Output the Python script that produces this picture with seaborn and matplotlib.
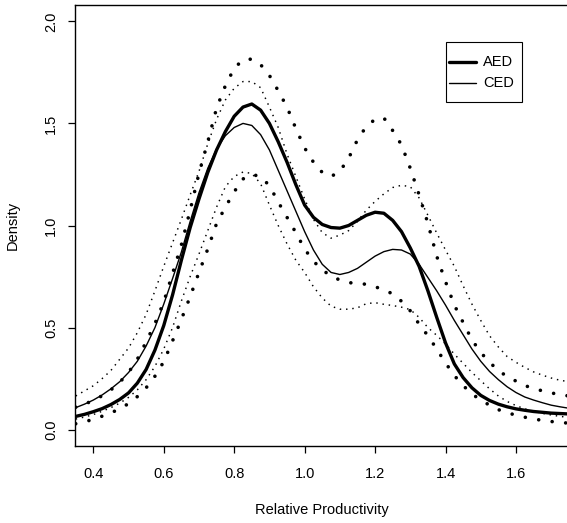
import numpy as np
import pandas as pd
import seaborn as sns
import matplotlib
matplotlib.use("Agg")
import matplotlib.pyplot as plt
from matplotlib.lines import Line2D
from matplotlib.patches import Rectangle

# Evaluation grid for the density estimates (relative productivity)
x_grid = [0.350, 0.375, 0.400, 0.425, 0.450, 0.475, 0.500, 0.525, 0.550, 0.575,
          0.600, 0.625, 0.650, 0.675, 0.700, 0.725, 0.750, 0.775, 0.800, 0.825,
          0.850, 0.875, 0.900, 0.925, 0.950, 0.975, 1.000, 1.025, 1.050, 1.075,
          1.100, 1.125, 1.150, 1.175, 1.200, 1.225, 1.250, 1.275, 1.300, 1.325,
          1.350, 1.375, 1.400, 1.425, 1.450, 1.475, 1.500, 1.525, 1.550, 1.575,
          1.600, 1.625, 1.650, 1.675, 1.700, 1.725, 1.750]

# AED density and its band
aed = [0.065, 0.075, 0.088, 0.103, 0.123, 0.148, 0.180, 0.228, 0.295, 0.390,
       0.510, 0.660, 0.830, 0.990, 1.130, 1.260, 1.370, 1.460, 1.535, 1.580,
       1.595, 1.565, 1.500, 1.410, 1.310, 1.200, 1.100, 1.040, 1.005, 0.990,
       0.987, 1.000, 1.025, 1.050, 1.065, 1.060, 1.025, 0.970, 0.890, 0.800,
       0.680, 0.550, 0.425, 0.322, 0.255, 0.205, 0.168, 0.143, 0.125, 0.112,
       0.102, 0.095, 0.089, 0.085, 0.081, 0.079, 0.077]
aed_upper = [0.110, 0.125, 0.143, 0.166, 0.195, 0.232, 0.280, 0.345, 0.430, 0.520,
             0.625, 0.765, 0.905, 1.075, 1.255, 1.410, 1.575, 1.685, 1.770, 1.812,
             1.815, 1.788, 1.735, 1.660, 1.580, 1.475, 1.380, 1.310, 1.260, 1.240,
             1.265, 1.330, 1.420, 1.485, 1.520, 1.527, 1.465, 1.395, 1.280, 1.150,
             1.010, 0.850, 0.725, 0.610, 0.525, 0.440, 0.378, 0.330, 0.290, 0.260,
             0.238, 0.216, 0.202, 0.190, 0.180, 0.172, 0.165]
aed_lower = [0.029, 0.039, 0.050, 0.066, 0.083, 0.101, 0.128, 0.162, 0.205, 0.262,
             0.333, 0.435, 0.540, 0.652, 0.770, 0.885, 1.010, 1.090, 1.165, 1.228,
             1.250, 1.240, 1.195, 1.115, 1.040, 0.965, 0.885, 0.825, 0.783, 0.752,
             0.733, 0.720, 0.717, 0.712, 0.700, 0.685, 0.665, 0.629, 0.582, 0.517,
             0.460, 0.395, 0.327, 0.265, 0.216, 0.175, 0.145, 0.120, 0.098, 0.083,
             0.071, 0.061, 0.053, 0.045, 0.040, 0.035, 0.032]

# CED density and its band
ced = [0.108, 0.125, 0.145, 0.170, 0.200, 0.235, 0.280, 0.335, 0.410, 0.500,
       0.615, 0.740, 0.870, 1.020, 1.160, 1.280, 1.375, 1.440, 1.480, 1.500,
       1.490, 1.445, 1.370, 1.270, 1.170, 1.070, 0.970, 0.880, 0.810, 0.770,
       0.760, 0.770, 0.790, 0.820, 0.850, 0.872, 0.883, 0.880, 0.860, 0.810,
       0.745, 0.680, 0.610, 0.535, 0.465, 0.395, 0.335, 0.285, 0.245, 0.210,
       0.182, 0.160, 0.145, 0.132, 0.120, 0.112, 0.105]
ced_upper = [0.165, 0.190, 0.215, 0.250, 0.290, 0.345, 0.400, 0.475, 0.565, 0.680,
             0.800, 0.915, 1.030, 1.150, 1.265, 1.400, 1.520, 1.615, 1.672, 1.705,
             1.705, 1.675, 1.580, 1.480, 1.350, 1.240, 1.130, 1.030, 0.965, 0.938,
             0.953, 0.975, 1.020, 1.075, 1.118, 1.155, 1.186, 1.197, 1.190, 1.135,
             1.050, 0.963, 0.880, 0.800, 0.705, 0.615, 0.535, 0.460, 0.405, 0.358,
             0.330, 0.305, 0.283, 0.267, 0.253, 0.242, 0.235]
ced_lower = [0.052, 0.062, 0.074, 0.090, 0.108, 0.130, 0.158, 0.195, 0.245, 0.310,
             0.395, 0.500, 0.630, 0.750, 0.860, 0.975, 1.090, 1.190, 1.240, 1.262,
             1.255, 1.205, 1.100, 1.000, 0.910, 0.830, 0.770, 0.700, 0.645, 0.605,
             0.590, 0.590, 0.597, 0.617, 0.622, 0.614, 0.608, 0.600, 0.588, 0.550,
             0.500, 0.462, 0.420, 0.370, 0.325, 0.280, 0.240, 0.200, 0.165, 0.138,
             0.118, 0.102, 0.090, 0.080, 0.072, 0.065, 0.060]

x_ticks = [0.4, 0.6, 0.8, 1.0, 1.2, 1.4, 1.6]
y_ticks = [0.0, 0.5, 1.0, 1.5, 2.0]
legend_labels = ["AED", "CED"]

df = pd.DataFrame({
    "x": x_grid, "aed": aed, "aed_upper": aed_upper, "aed_lower": aed_lower,
    "ced": ced, "ced_upper": ced_upper, "ced_lower": ced_lower,
})

sns.set_theme(style="white")
plt.rcParams["font.family"] = ["Liberation Sans", "DejaVu Sans"]

FS = 10.5
fig = plt.figure(figsize=(5.67, 5.23), dpi=100)
W, H = 567, 523
# plot region in pixels: left 75, top 5, bottom 446, right edge just past the canvas
ax = fig.add_axes([75 / W, (H - 446) / H, (569.5 - 75) / W, 441 / H])

thick = 2.4
thin = 1.0
big_dots = dict(color="black", lw=2.6, linestyle=(0, (0.01, 3.75)),
                dash_capstyle="round")
small_dots = dict(color="black", lw=1.05, linestyle=(0, (1.0, 3.3)),
                  dash_capstyle="butt")

sns.lineplot(data=df, x="x", y="aed_upper", ax=ax, estimator=None, **big_dots)
sns.lineplot(data=df, x="x", y="aed_lower", ax=ax, estimator=None, **big_dots)
sns.lineplot(data=df, x="x", y="ced_upper", ax=ax, estimator=None, **small_dots)
sns.lineplot(data=df, x="x", y="ced_lower", ax=ax, estimator=None, **small_dots)
sns.lineplot(data=df, x="x", y="aed", ax=ax, estimator=None, color="black", lw=thick)
sns.lineplot(data=df, x="x", y="ced", ax=ax, estimator=None, color="black", lw=thin)

ax.set_xlim(0.348, 1.752)
ax.set_ylim(-0.08, 2.08)
ax.set_xticks(x_ticks)
ax.set_xticklabels([f"{v:.1f}" for v in x_ticks])
ax.set_yticks(y_ticks)
ax.set_yticklabels([f"{v:.1f}" for v in y_ticks], rotation=90, va="center")

for side in ["left", "bottom", "top"]:
    ax.spines[side].set_visible(True)
    ax.spines[side].set_color("black")
    ax.spines[side].set_linewidth(1.0)
ax.spines["right"].set_visible(False)

ax.tick_params(axis="both", which="major", direction="out", length=5.2, width=0.9,
               color="black", labelsize=FS, labelcolor="black",
               bottom=True, left=True)
ax.tick_params(axis="x", pad=10)
ax.tick_params(axis="y", pad=7)

ax.set_xlabel("Relative Productivity", fontsize=FS, color="black")
ax.set_ylabel("Density", fontsize=FS, color="black")
ax.xaxis.set_label_coords(0.5, -0.129)
ax.yaxis.set_label_coords(-0.111, 0.5)

# Legend box with line keys
px = lambda x, y: (x / W, (H - y) / H)
fig.add_artist(Rectangle(px(446, 102.3), 76 / W, 60 / H, transform=fig.transFigure,
                         fill=False, edgecolor="black", lw=0.8))
for (ly, lw_), lab in zip([(61.7, thick), (83.3, thin)], legend_labels):
    (x0, y0), (x1, _) = px(449.3, ly), px(476, ly)
    fig.add_artist(Line2D([x0, x1], [y0, y0], transform=fig.transFigure,
                          color="black", lw=lw_))
    fig.text(*px(483.3, ly), lab, fontsize=FS, va="center", ha="left", color="black")

fig.savefig("out.png", dpi=100)
